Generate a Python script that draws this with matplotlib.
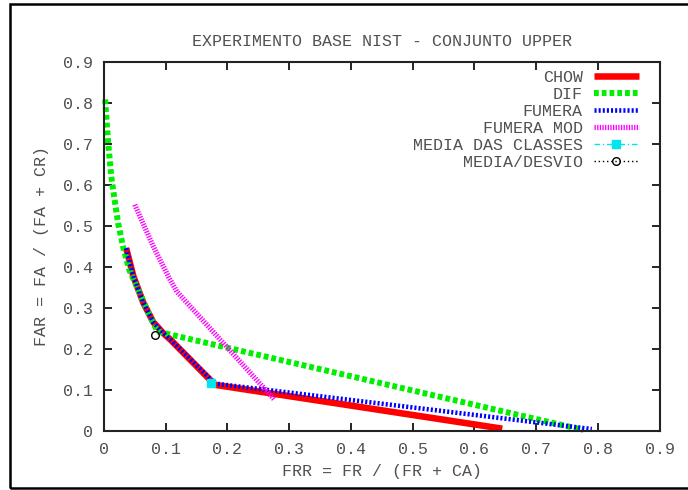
import matplotlib
matplotlib.use("Agg")
import matplotlib.pyplot as plt
from matplotlib.patches import Rectangle

# curvas (FRR, FAR)
chow_frr = [0.036, 0.048, 0.064, 0.080, 0.095, 0.108, 0.180, 0.645]
chow_far = [0.446, 0.376, 0.312, 0.265, 0.240, 0.222, 0.112, 0.005]

dif_frr = [0.002, 0.007, 0.012, 0.015, 0.023, 0.031, 0.041, 0.058, 0.072, 0.080, 0.087, 0.776]
dif_far = [0.809, 0.702, 0.620, 0.588, 0.507, 0.450, 0.393, 0.336, 0.288, 0.263, 0.242, 0.002]

fumera_frr = [0.036, 0.048, 0.064, 0.080, 0.095, 0.108, 0.180, 0.790]
fumera_far = [0.446, 0.376, 0.312, 0.265, 0.240, 0.222, 0.115, 0.004]

fmod_frr = [0.050, 0.080, 0.105, 0.118, 0.276]
fmod_far = [0.552, 0.450, 0.375, 0.340, 0.076]

classes_frr = [0.173]
classes_far = [0.116]

desvio_frr = [0.083]
desvio_far = [0.234]

xticks = [0, 0.1, 0.2, 0.3, 0.4, 0.5, 0.6, 0.7, 0.8, 0.9]
xtick_labels = ["0", "0.1", "0.2", "0.3", "0.4", "0.5", "0.6", "0.7", "0.8", "0.9"]
yticks = [0, 0.1, 0.2, 0.3, 0.4, 0.5, 0.6, 0.7, 0.8, 0.9]
ytick_labels = ["0", "0.1", "0.2", "0.3", "0.4", "0.5", "0.6", "0.7", "0.8", "0.9"]

txt = "#505050"
plt.rcParams["font.family"] = ["Liberation Mono", "DejaVu Sans Mono"]
plt.rcParams["font.size"] = 12

fig = plt.figure(figsize=(6.88, 4.90), dpi=100)
ax = fig.add_axes([0.151, 0.121, 0.808, 0.752])

# moldura externa
fig.patches.append(Rectangle((10 / 688, 2 / 490), 690 / 688, 484 / 490, transform=fig.transFigure,
                             fill=False, edgecolor="black", linewidth=1.8))

ax.plot(chow_frr, chow_far, color="#ff0000", lw=4.7, solid_capstyle="butt", label="CHOW", clip_on=False)
ax.plot(dif_frr, dif_far, color="#00ee00", lw=4.3, linestyle=(0, (0.8, 0.5)), dash_capstyle="butt",
        label="DIF", clip_on=False)
ax.plot(fumera_frr, fumera_far, color="#0000ff", lw=3.3, linestyle=(0, (0.45, 0.45)), dash_capstyle="butt",
        label="FUMERA", clip_on=False)
ax.plot(fmod_frr, fmod_far, color="#ff00ff", lw=3.8, linestyle=(0, (0.25, 0.25)), dash_capstyle="butt",
        label="FUMERA MOD", clip_on=False)
ax.plot(classes_frr, classes_far, color="#00e5ee", lw=1.0, linestyle=(0, (4, 2, 1, 2)),
        marker="s", markersize=6, label="MEDIA DAS CLASSES")
ax.plot(desvio_frr, desvio_far, color="black", lw=1.0, linestyle=(0, (1, 2)),
        marker="o", markersize=5.5, markerfacecolor="none", markeredgewidth=1.0, label="MEDIA/DESVIO")

ax.set_xlim(0, 0.9)
ax.set_ylim(0, 0.9)
ax.set_xticks(xticks)
ax.set_xticklabels(xtick_labels)
ax.set_yticks(yticks)
ax.set_yticklabels(ytick_labels)
ax.tick_params(direction="in", length=6, width=1.2, top=True, right=True,
               labelcolor=txt, labelsize=12, pad=8)
for s in ax.spines.values():
    s.set_color("#222222")
    s.set_linewidth(1.5)

ax.set_title("EXPERIMENTO BASE NIST - CONJUNTO UPPER", color=txt, fontsize=12, pad=12)
ax.set_xlabel("FRR = FR / (FR + CA)", color=txt, fontsize=12, labelpad=5)
ax.set_ylabel("FAR = FA / (FA + CR)", color=txt, fontsize=12, labelpad=10)

leg = ax.legend(loc="upper right", bbox_to_anchor=(0.962, 0.980), markerfirst=False, frameon=False,
                handlelength=2.7, handletextpad=0.65, labelspacing=0.12, numpoints=1, fontsize=12,
                borderaxespad=0.0, borderpad=0.0)
for t in leg.get_texts():
    t.set_color(txt)

fig.savefig("out.png", dpi=100)
